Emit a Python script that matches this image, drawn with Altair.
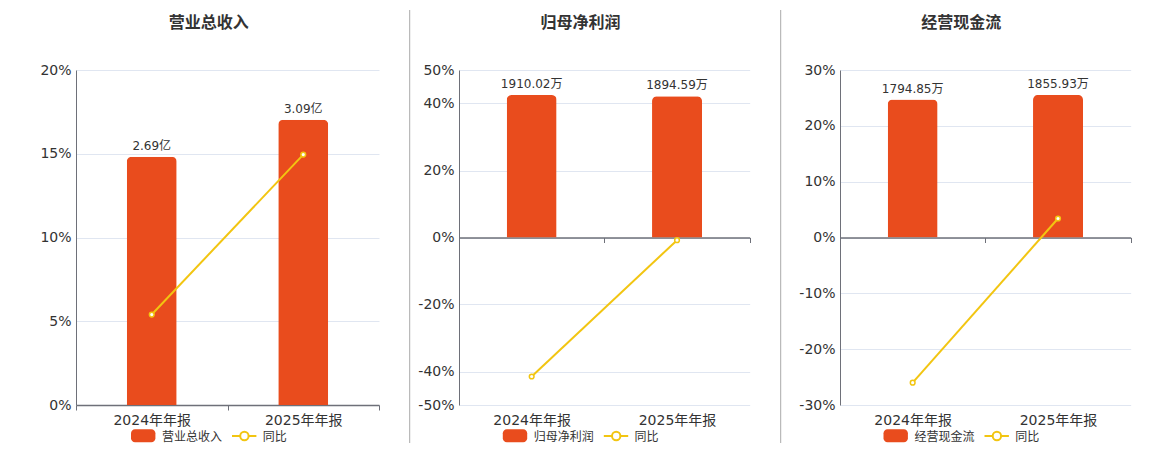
import altair as alt
import pandas as pd

categories = ["2024年年报", "2025年年报"]

revenue = [2.69, 3.09]
revenue_labels = ["2.69亿", "3.09亿"]
revenue_yoy = [5.4, 14.95]

profit = [1910.02, 1894.59]
profit_labels = ["1910.02万", "1894.59万"]
profit_yoy = [-41.5, -0.8]

cash = [1794.85, 1855.93]
cash_labels = ["1794.85万", "1855.93万"]
cash_yoy = [-26.0, 3.4]

RED = "#E94C1D"
YEL = "#F2C511"
AXIS = "#6E7079"
GRID = "#E0E6F1"
TXT = "#333333"
FONT = "DejaVu Sans, Noto Sans CJK SC"
H = 335
ONE = alt.Data(values=[{}])


def make_panel(title, name, values, labels, yoy, pct_domain, pct_ticks,
               bar_domain, width, center, zero_px, anchor=False):
    df = pd.DataFrame({"cat": categories, "value": values,
                       "label": labels, "yoy": yoy})
    xscale = alt.Scale(type="band", paddingInner=0, paddingOuter=0)
    xaxis = alt.Axis(title=None, labelAngle=0, tickBand="extent", tickSize=5,
                     tickColor=AXIS, tickWidth=1, domainColor=AXIS,
                     domainWidth=1.5, labelFontSize=14, labelColor=TXT,
                     labelPadding=3 + zero_px, offset=-zero_px, grid=False,
                     labelFont=FONT)
    xenc = alt.X("cat:N", sort=categories, scale=xscale, axis=xaxis)
    xenc2 = alt.X("cat:N", sort=categories, scale=xscale)
    bscale = alt.Scale(domain=bar_domain, nice=False, zero=False)
    pscale = alt.Scale(domain=pct_domain, nice=False, zero=False)
    yaxis = alt.Axis(orient="left", title=None, values=pct_ticks,
                     labelExpr="datum.value + '%'", grid=True,
                     gridColor=GRID, gridWidth=1, domain=True,
                     domainColor=AXIS, domainWidth=1, ticks=False,
                     labelFontSize=14, labelColor=TXT,
                     labelPadding=5, labelFont=FONT)

    bars = alt.Chart(df).mark_bar(
        color=RED, size=50, cornerRadiusTopLeft=5, cornerRadiusTopRight=5
    ).encode(x=xenc, y=alt.Y("value:Q", scale=bscale, axis=None))
    text = alt.Chart(df).mark_text(
        dy=-7, baseline="alphabetic", fontSize=12, color=TXT, font=FONT
    ).encode(x=xenc2, y=alt.Y("value:Q", scale=bscale, axis=None),
             text="label:N")
    line = alt.Chart(df).mark_line(color=YEL, strokeWidth=2).encode(
        x=xenc2, y=alt.Y("yoy:Q", scale=pscale, axis=yaxis))
    pts = alt.Chart(df).mark_point(
        shape="circle", filled=False, fill="white", stroke=YEL,
        strokeWidth=1.5, size=22, opacity=1
    ).encode(x=xenc2, y=alt.Y("yoy:Q", scale=pscale, axis=yaxis))

    decor = [
        alt.Chart(ONE).mark_text(
            fontSize=16, fontWeight="bold", color=TXT, align="center",
            baseline="middle", font=FONT
        ).encode(x=alt.value(center), y=alt.value(-46.7),
                 text=alt.value(title)),
        alt.Chart(ONE).mark_rect(color=RED, cornerRadius=4).encode(
            x=alt.value(center - 77.7), x2=alt.value(center - 53.3),
            y=alt.value(359.3), y2=alt.value(372.3)),
        alt.Chart(ONE).mark_text(
            fontSize=12, color=TXT, align="left", baseline="middle", font=FONT
        ).encode(x=alt.value(center - 46.7), y=alt.value(366.7),
                 text=alt.value(name)),
        alt.Chart(ONE).mark_rule(color=YEL, strokeWidth=2).encode(
            x=alt.value(center + 23.3), x2=alt.value(center + 47.7),
            y=alt.value(366)),
        alt.Chart(ONE).mark_point(
            shape="circle", filled=False, fill="white", stroke=YEL,
            strokeWidth=2, size=70, opacity=1
        ).encode(x=alt.value(center + 35.7), y=alt.value(366)),
        alt.Chart(ONE).mark_text(
            fontSize=12, color=TXT, align="left", baseline="middle", font=FONT
        ).encode(x=alt.value(center + 54), y=alt.value(366.7),
                 text=alt.value("同比")),
    ]
    if anchor:
        decor.append(alt.Chart(ONE).mark_rule(opacity=0, strokeWidth=0.1).encode(
            x=alt.value(-67.3), x2=alt.value(-67.3),
            y=alt.value(-62), y2=alt.value(-62)))

    return alt.layer(
        alt.layer(bars, text), alt.layer(line, pts), *decor
    ).resolve_scale(y="independent").properties(width=width, height=H)


def separator(width, xpos):
    return alt.Chart(ONE).mark_rule(color="#AAAAAA", strokeWidth=1).encode(
        x=alt.value(xpos), y=alt.value(-60), y2=alt.value(373)
    ).properties(width=width, height=H)


p1 = make_panel("营业总收入", "营业总收入", revenue, revenue_labels, revenue_yoy,
                [0, 20], [0, 5, 10, 15, 20], [0, 3.63], 303, 132.7, 0,
                anchor=True)
p2 = make_panel("归母净利润", "归母净利润", profit, profit_labels, profit_yoy,
                [-50, 50], [-50, -40, -20, 0, 20, 40, 50], [-2245, 2245],
                290.7, 121.5, 167.5)
p3 = make_panel("经营现金流", "经营现金流", cash, cash_labels, cash_yoy,
                [-30, 30], [-30, -20, -10, 0, 10, 20, 30], [-2180, 2180],
                290.7, 121.2, 167.5)

chart = alt.hconcat(
    p1, separator(79.3, 30.7), p2, separator(89.3, 30.7), p3,
    spacing=0, bounds="flush"
).properties(padding=0).configure(font=FONT).configure_view(strokeWidth=0)

chart.save("out.html", embed_options={"renderer": "svg", "actions": False})
